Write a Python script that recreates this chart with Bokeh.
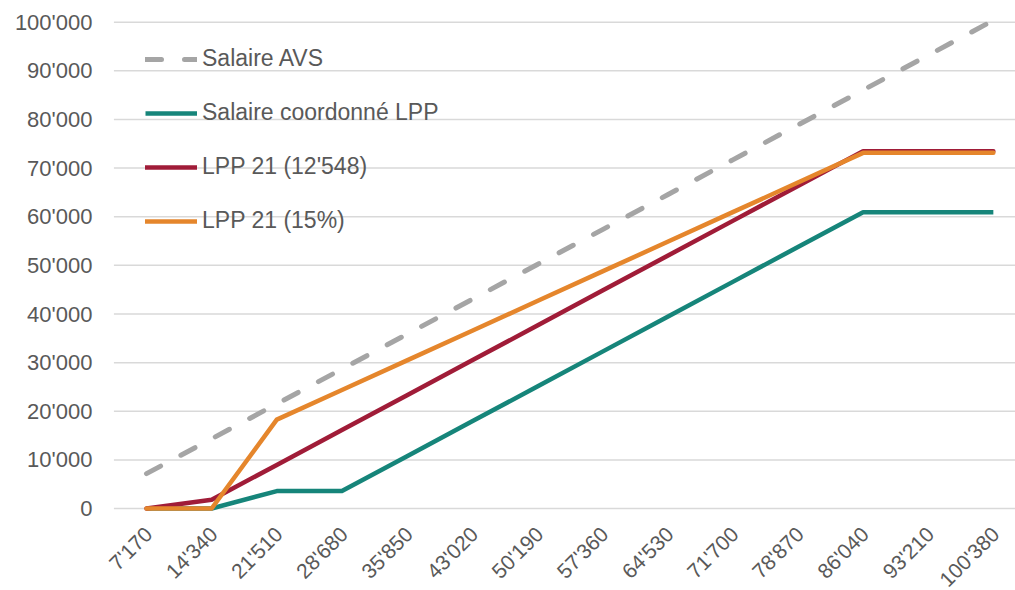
import math
from bokeh.plotting import figure
from bokeh.models import FixedTicker, Legend, LegendItem, Range1d, ColumnDataSource, LabelSet
from bokeh.core.properties import value
from bokeh.embed import file_html
from bokeh.resources import INLINE

x_labels = ["7'170", "14'340", "21'510", "28'680", "35'850", "43'020", "50'190",
            "57'360", "64'530", "71'700", "78'870", "86'040", "93'210", "100'380"]
salaire_avs = [7170, 14340, 21510, 28680, 35850, 43020, 50190,
               57360, 64530, 71700, 78870, 86040, 93210, 100380]
salaire_coord = [0, 0, 3585, 3585, 10755, 17925, 25095,
                 32265, 39435, 46605, 53775, 60945, 60945, 60945]
lpp_12548 = [0, 1792, 8962, 16132, 23302, 30472, 37642,
             44812, 51982, 59152, 66322, 73492, 73492, 73492]
lpp_15 = [0, 0, 18284, 24378, 30473, 36567, 42662,
          48756, 54851, 60945, 67040, 73134, 73134, 73134]
y_ticks = [0, 10000, 20000, 30000, 40000, 50000, 60000, 70000, 80000, 90000, 100000]
y_labels = ["0", "10'000", "20'000", "30'000", "40'000", "50'000", "60'000",
            "70'000", "80'000", "90'000", "100'000"]

xs = list(range(len(x_labels)))
X_START, X_END = -0.7675, 13.34

FONT = "Liberation Sans"
TXT = "#595959"

# the frame extends below zero and left of the first category so the rotated
# category labels sit inside it
p = figure(width=1015, height=590, output_backend="svg", toolbar_location=None,
           x_range=Range1d(X_START, X_END), y_range=Range1d(-16858, 102000),
           min_border_left=96, min_border_right=0, min_border_top=12, min_border_bottom=0)
p.outline_line_color = None
p.background_fill_color = "white"

p.xgrid.visible = False
p.ygrid.visible = False
# horizontal gridlines spanning the category area
p.segment(x0=[-0.5] * len(y_ticks), x1=[X_END] * len(y_ticks), y0=y_ticks, y1=y_ticks,
          line_color="#d9d9d9", line_width=1.5, level="underlay")

p.yaxis.ticker = FixedTicker(ticks=y_ticks)
p.yaxis.major_label_overrides = {t: l for t, l in zip(y_ticks, y_labels)}
p.yaxis.major_label_standoff = 4
p.yaxis.axis_line_color = None
p.yaxis.major_tick_line_color = None
p.yaxis.minor_tick_line_color = None
p.yaxis.major_tick_out = 0
p.yaxis.major_tick_in = 0
p.yaxis.major_label_text_font = FONT
p.yaxis.major_label_text_color = TXT
p.yaxis.major_label_text_font_size = "22px"

p.xaxis.visible = False

lab_src = ColumnDataSource(dict(x=xs, y=[0] * len(xs), text=x_labels))
xlabels = LabelSet(x="x", y="y", text="text", source=lab_src,
                   x_offset=2, y_offset=-22, angle=math.pi / 4,
                   text_align="right", text_baseline="middle",
                   text_font=value(FONT), text_font_size=value("21px"),
                   text_color=value(TXT))
p.add_layout(xlabels)

r_avs = p.line(xs, salaire_avs, line_color="#A5A5A5", line_width=5,
               line_dash="16 23", line_cap="round")
r_coord = p.line(xs, salaire_coord, line_color="#16857A", line_width=4.5, line_join="round")
r_12548 = p.line(xs, lpp_12548, line_color="#A01C38", line_width=4.5, line_join="round", line_cap="round")
r_15 = p.line(xs, lpp_15, line_color="#E5862C", line_width=4.5, line_join="round", line_cap="round")

legend = Legend(items=[
    LegendItem(label="Salaire AVS", renderers=[r_avs]),
    LegendItem(label="Salaire coordonné LPP", renderers=[r_coord]),
    LegendItem(label="LPP 21 (12'548)", renderers=[r_12548]),
    LegendItem(label="LPP 21 (15%)", renderers=[r_15]),
], location=(49, 356))
legend.background_fill_alpha = 0
legend.border_line_color = None
legend.margin = 0
legend.padding = 0
legend.spacing = 27
legend.glyph_width = 52
legend.glyph_height = 26
legend.label_height = 26
legend.label_standoff = 5
legend.label_text_font = FONT
legend.label_text_font_size = "23px"
legend.label_text_color = TXT
p.add_layout(legend)

open("out.html", "w").write(file_html(p, INLINE))
